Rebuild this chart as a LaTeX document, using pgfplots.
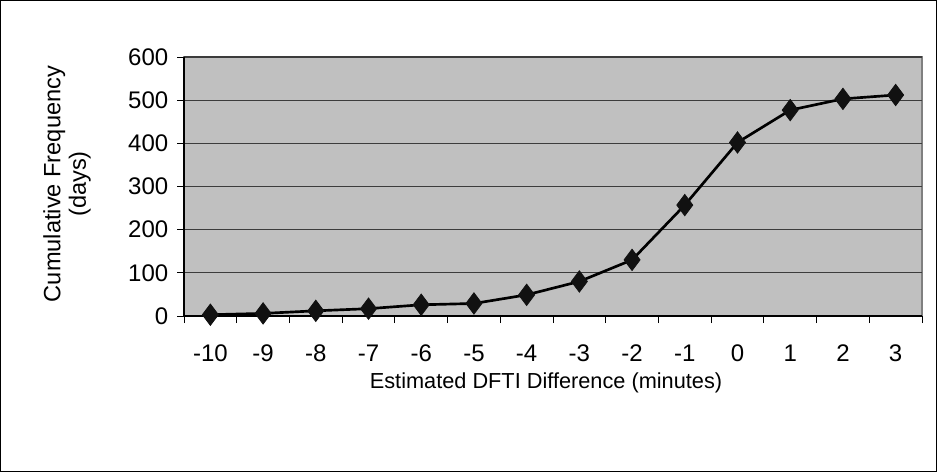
\documentclass[border=0pt]{standalone}
\usepackage{fontspec}
\setmainfont{Liberation Sans}
\usepackage{pgfplots}
\pgfplotsset{compat=1.18}

\definecolor{plotgray}{RGB}{192,192,192}
\definecolor{framegray}{RGB}{128,128,128}
\definecolor{gridline}{RGB}{60,60,60}
\definecolor{markblack}{RGB}{17,17,17}

\begin{document}
\begin{tikzpicture}
% outer chart frame, 937 x 472 px at 0.75pt per px
\draw[black, line width=0.8pt] (0.4pt,0.4pt) rectangle (702.35pt,353.6pt);

\begin{axis}[
  at={(138pt,117pt)}, anchor=south west,
  scale only axis,
  width=553.5pt, height=194.25pt,
  xmin=-0.5, xmax=13.5,
  ymin=0, ymax=600,
  axis background/.style={fill=plotgray, draw=framegray, line width=1.5pt},
  axis x line*=bottom, axis y line*=left,
  axis line style={black, line width=0.9pt},
  xtick={0,...,13},
  xticklabels={-10,-9,-8,-7,-6,-5,-4,-3,-2,-1,0,1,2,3},
  minor xtick={-0.5,0.5,...,13.5},
  ytick={0,100,...,600},
  tick align=outside,
  major tick length=5.25pt, minor tick length=5.25pt,
  major x tick style={draw=none},
  minor x tick style={black, line width=0.75pt},
  major y tick style={black, line width=0.75pt},
  ymajorgrids,
  major grid style={gridline, line width=0.9pt},
  /pgf/number format/assume math mode=true,
  tick label style={font=\fontsize{18}{21}\selectfont, black},
  xticklabel shift=13pt,
  yticklabel style={anchor=east, xshift=-3pt},
  clip=false,
]
\addplot[black, line width=2pt, mark=diamond*, mark size=8pt,
  mark options={fill=markblack, draw=markblack, line width=0.6pt}]
  coordinates {
  (0,3) (1,6) (2,12) (3,17) (4,26) (5,29) (6,49)
  (7,80) (8,130) (9,257) (10,402) (11,477) (12,503) (13,512)
};
\end{axis}

\node[align=center, rotate=90, font=\fontsize{17.7}{19}\selectfont] at (50.25pt,216pt)
  {Cumulative Frequency\\(days)};
\node[font=\fontsize{16.3}{19}\selectfont] at (409.5pt,66.75pt)
  {Estimated DFTI Difference (minutes)};
\end{tikzpicture}
\end{document}
